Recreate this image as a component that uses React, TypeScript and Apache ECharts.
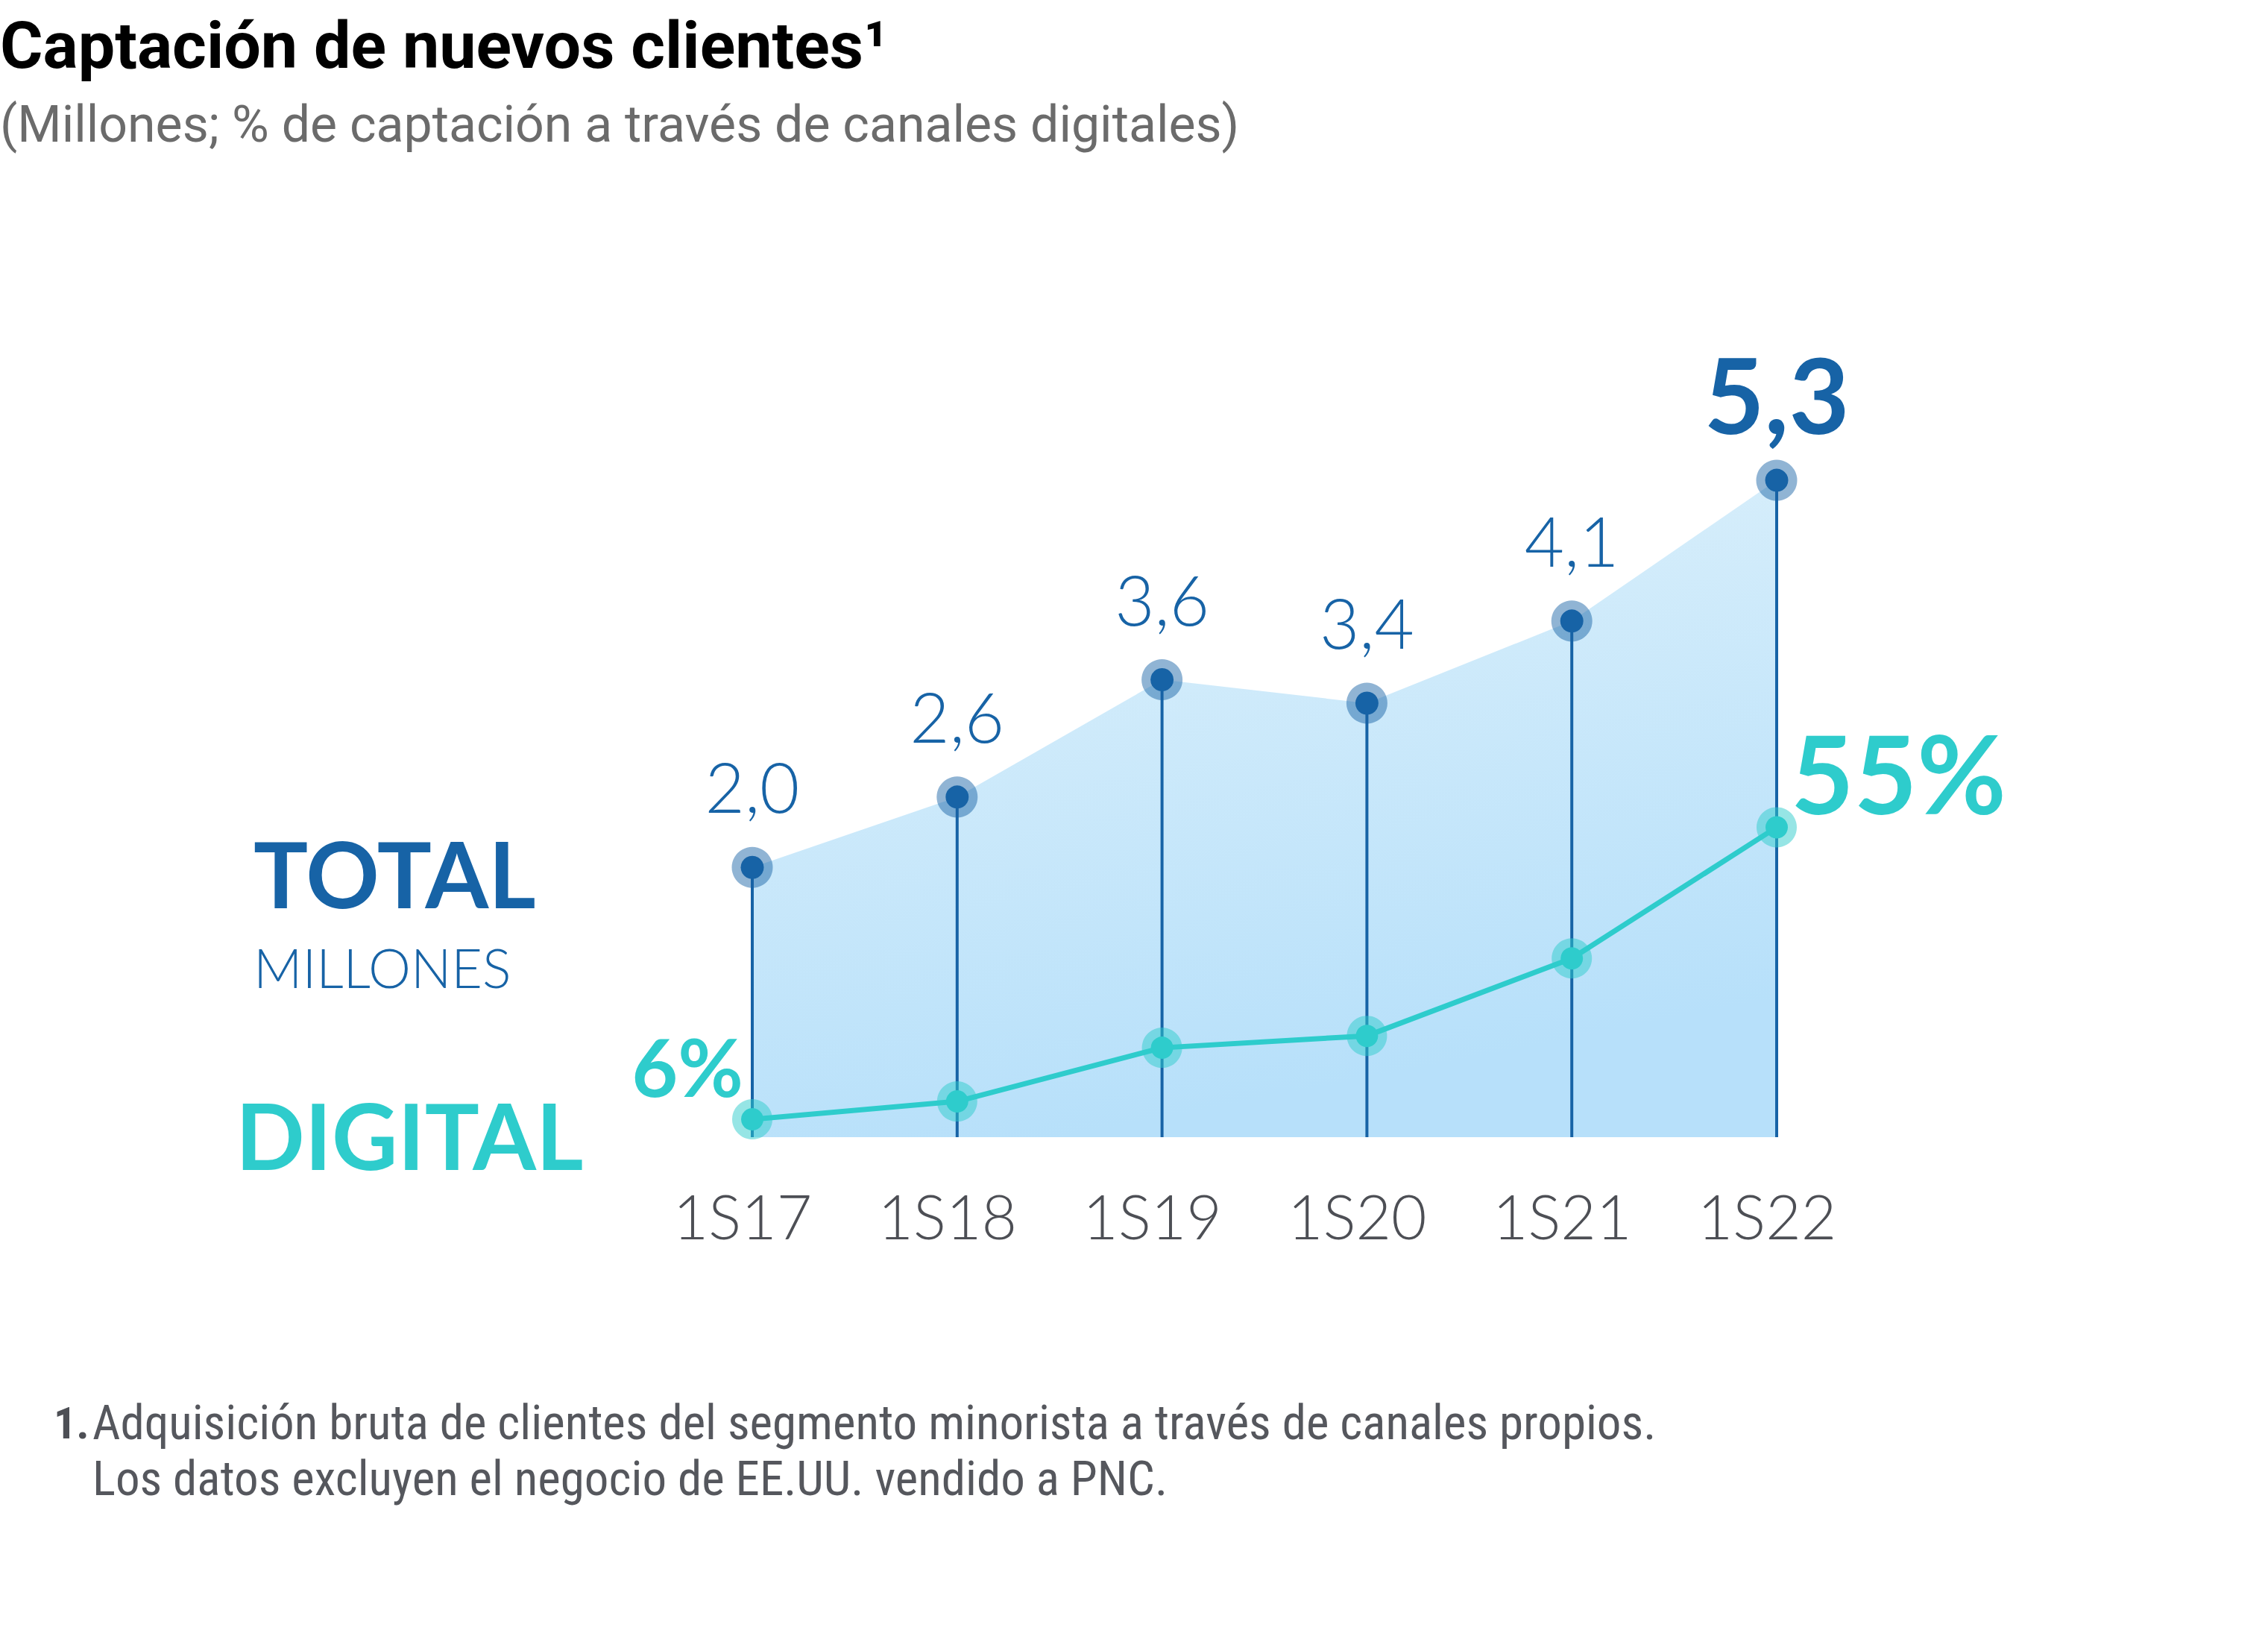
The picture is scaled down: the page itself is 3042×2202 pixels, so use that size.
import React, { useEffect, useRef } from "react";
import * as echarts from "echarts";

const categories = ["1S17", "1S18", "1S19", "1S20", "1S21", "1S22"];
const totalClients = [2.0, 2.6, 3.6, 3.4, 4.1, 5.3];
const digitalShare = [6, 9, 18, 20, 33, 55];
const titleText = "Captación de nuevos clientes¹";
const subtitleText = "(Millones; % de captación a través de canales digitales)";
const footnoteNumber = "1.";
const footnoteLines = [
  "Adquisición bruta de clientes del segmento minorista a través de canales propios.",
  "Los datos excluyen el negocio de EE.UU. vendido a PNC.",
];
const legendTotal = "TOTAL";
const legendUnit = "MILLONES";
const legendDigital = "DIGITAL";

const DARK = "#1763a6";
const TEAL = "#2ecccc";
const NARROW = "'Liberation Sans Narrow', 'Roboto Condensed', Roboto, sans-serif";
const SANS = "Roboto, 'Open Sans', sans-serif";
const GEO = "Lato, 'Open Sans', sans-serif";
const Y_MIN = -0.3;

function txt(x: number, y: number, text: string, size: number, color: string, family: string, weight: any = "normal", align = "left") {
  return {
    type: "text",
    x,
    y,
    silent: true,
    style: {
      text,
      fontSize: size,
      fontFamily: family,
      fontWeight: weight,
      fill: color,
      align,
      verticalAlign: "middle",
    },
  };
}

export default function App() {
  const ref = useRef<HTMLDivElement>(null);
  useEffect(() => {
    document.body.style.margin = "0";
    const chart = echarts.init(ref.current!, null, { renderer: "svg" });
    const lastT = totalClients.length - 1;
    const option: any = {
      animation: false,
      backgroundColor: "#ffffff",
      grid: { left: 1009, right: 659, top: 534, bottom: 677 },
      xAxis: {
        type: "category",
        data: categories,
        boundaryGap: false,
        axisLine: { show: false },
        axisTick: { show: false },
        splitLine: { show: false },
        axisLabel: {
          margin: 64,
          fontSize: 82,
          fontFamily: GEO,
          fontWeight: 300,
          color: "#4d4f55",
          padding: [0, 26, 0, 0],
        },
      },
      yAxis: [
        { type: "value", min: Y_MIN, max: 6, show: false, splitLine: { show: false } },
        { type: "value", min: 3, max: 127, show: false, splitLine: { show: false } },
      ],
      series: [
        {
          type: "line",
          data: totalClients,
          symbol: "none",
          silent: true,
          z: 1,
          lineStyle: { width: 0, opacity: 0 },
          areaStyle: {
            origin: "start",
            opacity: 1,
            color: new echarts.graphic.LinearGradient(0, 0, 0.3, 1, [
              { offset: 0, color: "#e0f2fb" },
              { offset: 1, color: "#b7e0fa" },
            ]),
          },
        },
        {
          type: "custom",
          z: 2,
          silent: true,
          data: totalClients.map((v, i) => [i, v]),
          renderItem: (params: any, api: any) => {
            const top = api.coord([api.value(0), api.value(1)]);
            const bot = api.coord([api.value(0), Y_MIN]);
            return {
              type: "line",
              shape: { x1: top[0], y1: top[1], x2: bot[0], y2: bot[1] },
              style: { stroke: DARK, lineWidth: 4 },
            };
          },
        },
        {
          type: "scatter",
          data: totalClients,
          symbolSize: 55,
          z: 3,
          silent: true,
          itemStyle: { color: "rgba(23,99,166,0.48)", opacity: 1 },
        },
        {
          type: "scatter",
          yAxisIndex: 1,
          data: digitalShare,
          symbolSize: 54,
          z: 3,
          silent: true,
          itemStyle: { color: "rgba(46,204,204,0.5)", opacity: 1 },
        },
        {
          type: "line",
          yAxisIndex: 1,
          z: 4,
          symbol: "circle",
          symbolSize: 30,
          lineStyle: { width: 7, color: TEAL },
          itemStyle: { color: TEAL, opacity: 1 },
          data: digitalShare.map((v, i) => {
            if (i === 0) {
              return {
                value: v,
                label: {
                  show: true,
                  position: "left",
                  distance: 0,
                  offset: [3, -72],
                  formatter: `${v}%`,
                  fontSize: 107,
                  fontWeight: "bold",
                  fontFamily: GEO,
                  color: TEAL,
                },
              };
            }
            if (i === digitalShare.length - 1) {
              return {
                value: v,
                label: {
                  show: true,
                  position: "right",
                  distance: 4,
                  offset: [0, -74],
                  formatter: `${v}%`,
                  fontSize: 146,
                  fontWeight: "bold",
                  fontFamily: GEO,
                  color: TEAL,
                },
              };
            }
            return { value: v };
          }),
        },
        {
          type: "scatter",
          z: 5,
          symbolSize: 31,
          itemStyle: { color: DARK, opacity: 1 },
          label: {
            show: true,
            position: "top",
            distance: 47,
            fontSize: 92,
            fontWeight: 300,
            fontFamily: GEO,
            color: DARK,
            opacity: 1,
            formatter: (p: any) => Number(p.value).toFixed(1).replace(".", ","),
          },
          data: totalClients.map((v, i) =>
            i === lastT
              ? { value: v, label: { distance: 31, fontSize: 140, fontWeight: "bold" } }
              : v
          ),
        },
      ],
      graphic: [
        txt(0, 60, titleText, 88, "#000000", SANS, "bold"),
        txt(0, 167, subtitleText, 68, "#6b6b6b", SANS, "normal"),
        txt(340, 1171, legendTotal, 122, DARK, GEO, "bold"),
        txt(340, 1297, legendUnit, 72, DARK, GEO, 300),
        txt(316, 1522, legendDigital, 122, TEAL, GEO, "bold"),
        txt(72, 1908, footnoteNumber, 60, "#4d4f55", NARROW, "bold"),
        txt(124, 1908, footnoteLines[0], 65, "#55575d", NARROW, "normal"),
        txt(124, 1983, footnoteLines[1], 65, "#55575d", NARROW, "normal"),
      ],
    };
    chart.setOption(option);
    return () => chart.dispose();
  }, []);
  return <div ref={ref} style={{ width: 3042, height: 2202 }} />;
}
